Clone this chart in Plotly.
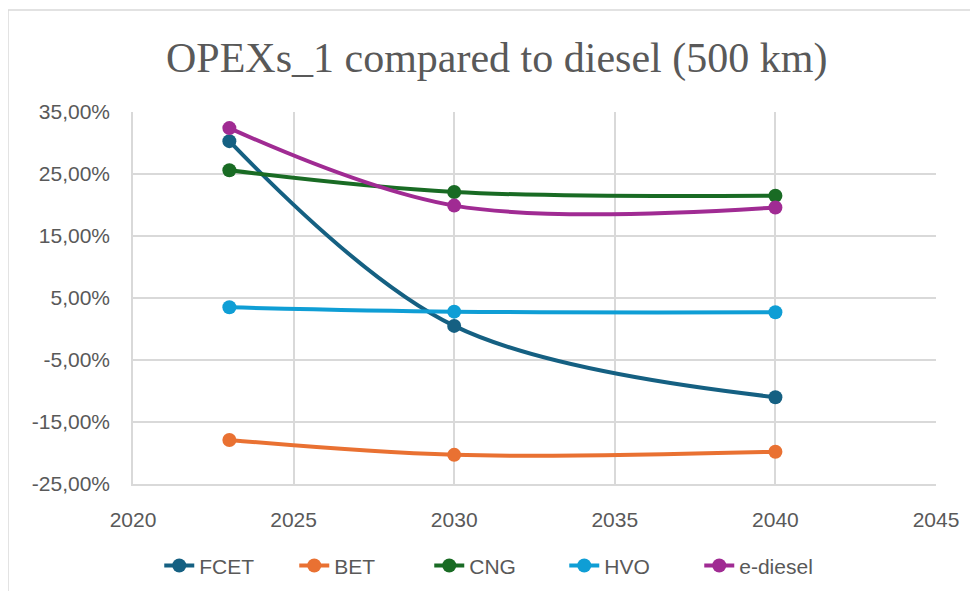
import plotly.graph_objects as go

years = [2023, 2030, 2040]
series_names = ["FCET", "BET", "CNG", "HVO", "e-diesel"]
fcet = [0.303, 0.005, -0.110]
bet = [-0.179, -0.203, -0.198]
cng = [0.256, 0.221, 0.215]
hvo = [0.035, 0.028, 0.027]
ediesel = [0.324, 0.199, 0.196]
colors = ["#156082", "#E97132", "#196B24", "#0F9ED5", "#A02B93"]

y_ticks = [-0.25, -0.15, -0.05, 0.05, 0.15, 0.25, 0.35]
y_tick_labels = ["-25,00%", "-15,00%", "-5,00%", "5,00%", "15,00%", "25,00%", "35,00%"]
x_ticks = [2020, 2025, 2030, 2035, 2040, 2045]

fig = go.Figure()
for name, vals, col in zip(series_names, [fcet, bet, cng, hvo, ediesel], colors):
    fig.add_trace(go.Scatter(
        x=years, y=vals, name=name, mode="lines+markers",
        line=dict(color=col, width=4, shape="spline", smoothing=1.0),
        marker=dict(color=col, size=14),
    ))

grid = "#d9d9d9"
W, H = 962, 583
fig.update_layout(
    width=W, height=H,
    margin=dict(l=125, r=34, t=104, b=107, autoexpand=False),
    paper_bgcolor="white", plot_bgcolor="white",
    title=dict(text="OPEXs_1 compared to diesel (500 km)",
               font=dict(family="Liberation Serif, Times New Roman, serif", size=42, color="#595959"),
               x=0.508, xanchor="center", y=0.915, yanchor="middle"),
    font=dict(family="Liberation Sans, Arial, sans-serif", size=21, color="#595959"),
    xaxis=dict(range=[2020, 2045], tickvals=x_ticks, showgrid=True, gridcolor=grid, gridwidth=1.5,
               showline=True, linecolor=grid, linewidth=1.5, zeroline=False, ticks="",
               ticklabelstandoff=16, fixedrange=True, automargin=False),
    yaxis=dict(range=[-0.25, 0.35], tickvals=y_ticks, ticktext=y_tick_labels, showgrid=True,
               gridcolor=grid, gridwidth=1.5, showline=True, linecolor=grid, linewidth=1.5,
               zeroline=False, ticks="", ticklabelstandoff=17, automargin=False),
    legend=dict(orientation="h", x=0.453, xanchor="center", y=-0.22, yanchor="middle",
                font=dict(size=21, color="#595959"), entrywidth=90, itemwidth=30),
    showlegend=True,
    shapes=[
        dict(type="line", xref="paper", yref="paper", x0=-0.1557, x1=1.08, y0=1.274, y1=1.274,
             line=dict(color=grid, width=1.5)),
        dict(type="line", xref="paper", yref="paper", x0=-0.1557, x1=-0.1557, y0=1.274, y1=-0.32,
             line=dict(color=grid, width=1.5)),
    ],
)

fig.write_html("out.html")
